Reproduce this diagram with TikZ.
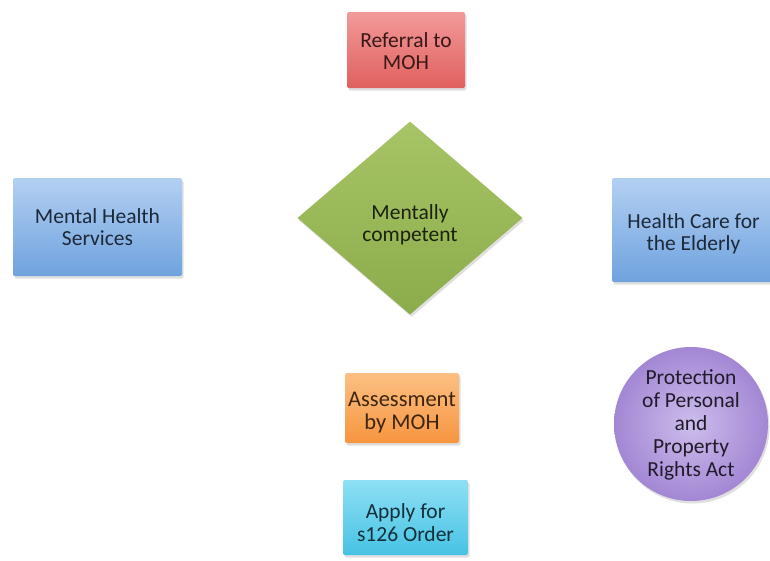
\documentclass[tikz,border=0pt]{standalone}
\usepackage{fontspec}
\setmainfont{Carlito}
\usetikzlibrary{shapes.geometric,shadows}
\definecolor{redA}{HTML}{F29A9A}
\definecolor{redB}{HTML}{E0605E}
\definecolor{blueA}{HTML}{B3D0F2}
\definecolor{blueB}{HTML}{6FA2DE}
\definecolor{greenA}{HTML}{A7C566}
\definecolor{greenB}{HTML}{8CAB4A}
\definecolor{orangeA}{HTML}{FBC083}
\definecolor{orangeB}{HTML}{F7953F}
\definecolor{cyanA}{HTML}{8EE0F4}
\definecolor{cyanB}{HTML}{47C2E4}
\definecolor{purpleA}{HTML}{CDBDEB}
\definecolor{purpleB}{HTML}{A287D4}
% centred lines of text, drawn a little lower than the node centre
\newcommand\lowtext[2]{\raisebox{-#1}[\height][\depth]{%
  \begin{tabular}{@{}c@{}}#2\end{tabular}}}
\tikzset{
  x=1pt, y=-1pt,
  label font/.style={font=\fontsize{21.5}{22.5}\selectfont},
  soft shadow/.style={drop shadow={opacity=0.25, shadow xshift=1.5pt, shadow yshift=-2.5pt}},
  card/.style={rectangle, rounded corners=2pt, draw=none,
    label font, inner sep=0pt, soft shadow},
  redcard/.style={card, top color=redA, bottom color=redB, text=redB!25!black},
  bluecard/.style={card, top color=blueA, bottom color=blueB, text=blueB!25!black},
  orangecard/.style={card, top color=orangeA, bottom color=orangeB, text=orangeB!25!black},
  cyancard/.style={card, top color=cyanA, bottom color=cyanB, text=cyanB!25!black},
}
\begin{document}
\begin{tikzpicture}
\useasboundingbox (0,0) rectangle (770,560);

\node[redcard, minimum width=118pt, minimum height=76pt] (referral) at (406,50)
  {\lowtext{4pt}{Referral to\\MOH}};

\node[bluecard, minimum width=169pt, minimum height=98pt] (mhs) at (97.5,227)
  {\lowtext{3pt}{Mental Health\\Services}};

\node[bluecard, minimum width=163pt, minimum height=104pt] (hce) at (693.5,230)
  {\lowtext{5pt}{Health Care for\\the Elderly}};

\node[diamond, draw=none, minimum width=225pt, minimum height=193pt, inner sep=0pt,
  label font, soft shadow,
  top color=greenA, bottom color=greenB, text=greenB!20!black]
  (competent) at (410,218) {\lowtext{8pt}{Mentally\\competent}};

\node[orangecard, minimum width=114pt, minimum height=70pt,
  font=\fontsize{22.5}{23}\selectfont] (assess) at (402,408)
  {\lowtext{5pt}{Assessment\\by MOH}};

\node[cyancard, minimum width=125pt, minimum height=75pt] (apply) at (405.5,517.5)
  {\lowtext{8pt}{Apply for\\s126 Order}};

\node[circle, draw=none, minimum size=154pt, inner sep=0pt,
  font=\fontsize{21.5}{23}\selectfont, soft shadow,
  inner color=purpleA, outer color=purpleB, text=purpleB!20!black]
  (ppra) at (691,424)
  {\lowtext{2pt}{Protection\\of Personal\\and\\Property\\Rights Act}};
\end{tikzpicture}
\end{document}
